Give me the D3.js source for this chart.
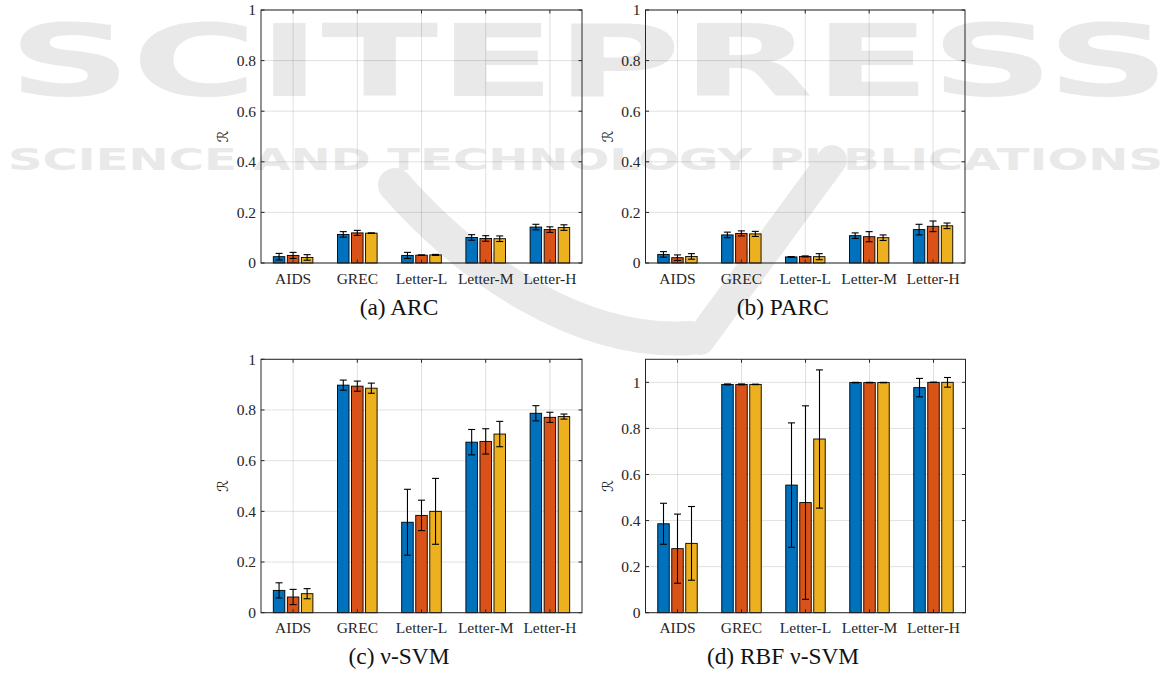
<!DOCTYPE html>
<html><head><meta charset="utf-8">
<script src="https://cdn.jsdelivr.net/npm/d3@7"></script>
<style>body{margin:0;background:#fff} svg{display:block}</style>
</head><body>
<svg id="chart" width="1173" height="675"></svg>
<script>
// ---------- data ----------
const categories = ["AIDS", "GREC", "Letter-L", "Letter-M", "Letter-H"];
const seriesNames = ["Series 1", "Series 2", "Series 3"];
const seriesColors = ["#0072BD", "#D95319", "#EDB120"];

// (a) ARC : mean per category (3 series) and error half-width
const arcMean = [[0.025, 0.030, 0.022], [0.113, 0.119, 0.118], [0.030, 0.031, 0.032], [0.101, 0.097, 0.096], [0.142, 0.132, 0.140]];
const arcErr  = [[0.013, 0.012, 0.011], [0.011, 0.010, 0.001], [0.012, 0.001, 0.002], [0.011, 0.011, 0.011], [0.011, 0.011, 0.011]];
// (b) PARC
const parcMean = [[0.034, 0.021, 0.026], [0.111, 0.117, 0.115], [0.024, 0.026, 0.025], [0.108, 0.104, 0.100], [0.132, 0.145, 0.147]];
const parcErr  = [[0.011, 0.011, 0.011], [0.011, 0.010, 0.010], [0.001, 0.002, 0.012], [0.011, 0.020, 0.011], [0.021, 0.021, 0.011]];
// (c) nu-SVM
const svmMean = [[0.088, 0.062, 0.075], [0.898, 0.894, 0.886], [0.357, 0.384, 0.400], [0.673, 0.676, 0.705], [0.787, 0.771, 0.774]];
const svmErr  = [[0.030, 0.030, 0.020], [0.020, 0.020, 0.020], [0.130, 0.060, 0.130], [0.050, 0.050, 0.050], [0.030, 0.020, 0.010]];
// (d) RBF nu-SVM
const rbfMean = [[0.386, 0.278, 0.301], [0.991, 0.991, 0.991], [0.554, 0.478, 0.754], [0.999, 0.999, 0.999], [0.977, 1.000, 1.000]];
const rbfErr  = [[0.089, 0.150, 0.160], [0.002, 0.002, 0.001], [0.270, 0.420, 0.300], [0.001, 0.001, 0.001], [0.040, 0.000, 0.021]];

const yTicks = [0, 0.2, 0.4, 0.6, 0.8, 1];
const yMaxes = [1, 1, 1, 1.1];
const captions = ["(a) ARC", "(b) PARC", "(c) \u03bd-SVM", "(d) RBF \u03bd-SVM"];
const yLabel = "\u211B";

const panelMeans = [arcMean, parcMean, svmMean, rbfMean];
const panelErrs = [arcErr, parcErr, svmErr, rbfErr];

// ---------- layout ----------
const panels = [
  {left: 261, right: 582, top: 10, bottom: 263, capY: 314.5},
  {left: 645.5, right: 965, top: 10, bottom: 263, capY: 314.5},
  {left: 261, right: 582, top: 359.3, bottom: 612.7, capY: 664},
  {left: 645.5, right: 965.5, top: 359.3, bottom: 612.7, capY: 663.5}
];

const svg = d3.select("#chart");

// ---------- watermark (drawn first, light) ----------
const wm = svg.append("g").attr("pointer-events", "none").attr("fill", "#e9e9e9");
wm.append("text").attr("x", 8).attr("y", 96).style("font-family", "'DejaVu Sans',sans-serif")
  .style("font-weight", "bold").style("font-size", "100px")
  .attr("textLength", 1162).attr("lengthAdjust", "spacingAndGlyphs").text("SCITEPRESS");
wm.append("text").attr("x", 8).attr("y", 170).style("font-family", "'DejaVu Sans',sans-serif")
  .style("font-weight", "bold").style("font-size", "31px")
  .attr("textLength", 1155).attr("lengthAdjust", "spacingAndGlyphs").text("SCIENCE AND TECHNOLOGY PUBLICATIONS");
const vShape = wm.append("g").attr("fill", "none").attr("stroke", "#e9e9e9").attr("stroke-linecap", "round");
vShape.append("path").attr("d", "M395,185 C470,270 580,345 690,338").attr("stroke-width", 34);
vShape.append("path").attr("d", "M832,160 L700,340").attr("stroke-width", 30);

const serif = "'Liberation Serif','Times New Roman',Times,serif";
const axisColor = "#262626";
const gridColor = "rgba(0,0,0,0.12)";

panels.forEach((p, pi) => {
  const w = p.right - p.left, h = p.bottom - p.top;
  const g = svg.append("g").attr("transform", `translate(${p.left},${p.top})`);
  const x0 = d3.scaleBand().domain(categories).range([0, w]).padding(0);
  const groupW = x0.bandwidth() * 0.656;
  const x1 = d3.scaleBand().domain(seriesNames).range([0, groupW]).paddingInner(0.18).paddingOuter(0.09);
  const y = d3.scaleLinear().domain([0, yMaxes[pi]]).range([h, 0]);
  const ticks = yTicks.filter(t => t <= yMaxes[pi] + 1e-9);

  // grid
  g.append("g").selectAll("line").data(ticks).join("line")
    .attr("x1", 0).attr("x2", w).attr("y1", d => y(d)).attr("y2", d => y(d))
    .attr("stroke", gridColor).attr("stroke-width", 1);
  g.append("g").selectAll("line").data(categories).join("line")
    .attr("x1", d => x0(d) + x0.bandwidth() / 2).attr("x2", d => x0(d) + x0.bandwidth() / 2)
    .attr("y1", 0).attr("y2", h)
    .attr("stroke", gridColor).attr("stroke-width", 1);

  // bars
  const rows = [];
  categories.forEach((c, ci) => seriesNames.forEach((s, si) => {
    rows.push({c, s, si, v: panelMeans[pi][ci][si], e: panelErrs[pi][ci][si]});
  }));
  const bx = d => x0(d.c) + (x0.bandwidth() - groupW) / 2 + x1(d.s);
  g.append("g").selectAll("rect").data(rows).join("rect")
    .attr("x", bx).attr("width", x1.bandwidth())
    .attr("y", d => y(d.v)).attr("height", d => h - y(d.v))
    .attr("fill", d => seriesColors[d.si])
    .attr("stroke", "#000").attr("stroke-width", 0.9);

  // error bars
  const eb = g.append("g").attr("stroke", "#000").attr("stroke-width", 1.1);
  const cx = d => bx(d) + x1.bandwidth() / 2;
  eb.selectAll("line.s").data(rows).join("line").attr("class", "s")
    .attr("x1", cx).attr("x2", cx)
    .attr("y1", d => y(d.v - d.e)).attr("y2", d => y(d.v + d.e));
  eb.selectAll("line.t").data(rows).join("line").attr("class", "t")
    .attr("x1", d => cx(d) - 3.5).attr("x2", d => cx(d) + 3.5)
    .attr("y1", d => y(d.v + d.e)).attr("y2", d => y(d.v + d.e));
  eb.selectAll("line.b").data(rows).join("line").attr("class", "b")
    .attr("x1", d => cx(d) - 3.5).attr("x2", d => cx(d) + 3.5)
    .attr("y1", d => y(d.v - d.e)).attr("y2", d => y(d.v - d.e));

  // box
  g.append("rect").attr("x", 0).attr("y", 0).attr("width", w).attr("height", h)
    .attr("fill", "none").attr("stroke", axisColor).attr("stroke-width", 1);
  // inward ticks
  const tk = g.append("g").attr("stroke", axisColor).attr("stroke-width", 1);
  ticks.forEach(t => {
    tk.append("line").attr("x1", 0).attr("x2", 3.5).attr("y1", y(t)).attr("y2", y(t));
    tk.append("line").attr("x1", w - 3.5).attr("x2", w).attr("y1", y(t)).attr("y2", y(t));
  });
  categories.forEach(c => {
    const xc = x0(c) + x0.bandwidth() / 2;
    tk.append("line").attr("x1", xc).attr("x2", xc).attr("y1", 0).attr("y2", 3.5);
    tk.append("line").attr("x1", xc).attr("x2", xc).attr("y1", h - 3.5).attr("y2", h);
  });

  // y axis labels
  const ya = g.append("g").call(d3.axisLeft(y).tickValues(ticks).tickSize(0).tickPadding(5).tickFormat(d3.format("~g")));
  ya.attr("font-family", null).attr("font-size", null);
  ya.select(".domain").remove();
  ya.selectAll("text").style("font-family", serif).style("font-size", "15.5px").attr("fill", axisColor);

  // x axis labels
  const xa = g.append("g").attr("transform", `translate(0,${h})`)
    .call(d3.axisBottom(x0).tickSize(0).tickPadding(0));
  xa.attr("font-family", null).attr("font-size", null);
  xa.select(".domain").remove();
  xa.selectAll("text").style("font-family", serif).style("font-size", "15.5px").attr("fill", axisColor)
    .attr("dy", null).attr("y", 20.5);

  // y label
  g.append("text").attr("transform", `translate(-38,${h / 2}) rotate(-90)`)
    .attr("text-anchor", "middle").attr("dominant-baseline", "central")
    .style("font-family", "'DejaVu Serif','DejaVu Sans',serif").style("font-size", "15px")
    .style("font-style", "italic")
    .attr("fill", axisColor).text(yLabel);

  // caption
  svg.append("text").attr("x", (p.left + p.right) / 2 - 22.5).attr("y", p.capY)
    .attr("text-anchor", "middle").style("font-family", serif).style("font-size", "23.4px")
    .attr("fill", "#111").text(captions[pi]);
});
</script>
</body></html>
